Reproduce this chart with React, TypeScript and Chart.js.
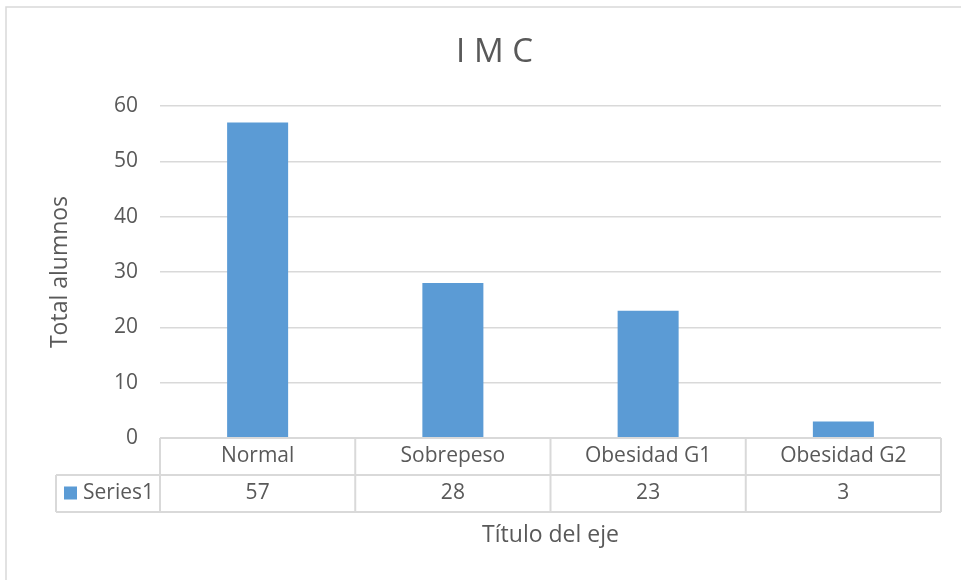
import React, { useEffect, useRef } from "react";
import { Chart, registerables } from "chart.js";

Chart.register(...registerables);

const chartTitle = "I M C";
const categories = ["Normal", "Sobrepeso", "Obesidad G1", "Obesidad G2"];
const seriesName = "Series1";
const seriesValues = [57, 28, 23, 3];
const yTitle = "Total alumnos";
const xTitle = "Título del eje";

const FONT = "'Open Sans', 'Noto Sans', sans-serif";
const TEXT = "#595959";
const GRID = "#D9D9D9";
const BAR = "#5B9BD5";

const tablePlugin = {
  id: "dataTable",
  beforeDraw(chart: any) {
    const { ctx } = chart;
    ctx.save();
    ctx.fillStyle = "#ffffff";
    ctx.fillRect(0, 0, chart.width, chart.height);
    ctx.strokeStyle = GRID;
    ctx.lineWidth = 1.5;
    ctx.strokeRect(6, 7, chart.width + 20, chart.height + 20);
    ctx.restore();
  },
  afterDraw(chart: any) {
    const { ctx, chartArea } = chart;
    const xs = chart.scales.x;
    const n = categories.length;
    const w = (chartArea.right - chartArea.left) / n;
    const top = chartArea.bottom;
    const rowH = 37;
    const legLeft = 56;
    ctx.save();
    ctx.strokeStyle = GRID;
    ctx.lineWidth = 2;
    ctx.beginPath();
    ctx.moveTo(chartArea.left, top);
    ctx.lineTo(chartArea.right, top);
    ctx.moveTo(legLeft, top + rowH);
    ctx.lineTo(chartArea.right, top + rowH);
    ctx.moveTo(legLeft, top + rowH * 2);
    ctx.lineTo(chartArea.right, top + rowH * 2);
    ctx.moveTo(legLeft, top + rowH);
    ctx.lineTo(legLeft, top + rowH * 2);
    for (let i = 0; i <= n; i++) {
      const x = chartArea.left + i * w;
      ctx.moveTo(x, top);
      ctx.lineTo(x, top + rowH * 2);
    }
    ctx.stroke();

    ctx.fillStyle = TEXT;
    ctx.font = `21px ${FONT}`;
    ctx.textAlign = "center";
    ctx.textBaseline = "middle";
    categories.forEach((c, i) => {
      const cx = xs.getPixelForValue(i);
      ctx.fillText(c, cx, top + rowH / 2);
      ctx.fillText(String(seriesValues[i]), cx, top + rowH * 1.5);
    });
    ctx.fillStyle = BAR;
    ctx.fillRect(64, top + rowH * 1.5 - 7, 13, 13);
    ctx.fillStyle = TEXT;
    ctx.textAlign = "left";
    ctx.fillText(seriesName, 83, top + rowH * 1.5);
    ctx.restore();
  },
};

export default function App() {
  const ref = useRef<HTMLCanvasElement>(null);
  useEffect(() => {
    if (!ref.current) return;
    const chart = new Chart(ref.current, {
      type: "bar",
      data: {
        labels: categories,
        datasets: [
          {
            label: seriesName,
            data: seriesValues,
            backgroundColor: BAR,
            categoryPercentage: 1,
            barPercentage: 0.3125,
          },
        ],
      },
      options: {
        responsive: false,
        animation: false,
        devicePixelRatio: 1,
        layout: { padding: { left: 48, right: 20, top: 0, bottom: 0 } },
        plugins: {
          legend: { display: false },
          tooltip: { enabled: false },
          title: {
            display: true,
            text: chartTitle,
            color: TEXT,
            font: { family: FONT, size: 33, weight: "normal" },
            padding: { top: 33, bottom: 33.4 },
          },
        },
        scales: {
          x: {
            offset: true,
            grid: { display: false },
            border: { display: false },
            ticks: { display: false },
            afterFit: (s: any) => {
              s.height = 142;
            },
            title: {
              display: true,
              text: xTitle,
              color: TEXT,
              font: { family: FONT, size: 23 },
              padding: { top: 0, bottom: 31 },
            },
          },
          y: {
            min: 0,
            max: 60,
            border: { display: false },
            grid: { color: GRID, lineWidth: 1.5, drawTicks: false },
            ticks: {
              stepSize: 10,
              padding: 22,
              color: TEXT,
              font: { family: FONT, size: 21 },
            },
            afterFit: (s: any) => {
              s.width = 112;
            },
            title: {
              display: true,
              text: yTitle,
              color: TEXT,
              font: { family: FONT, size: 23 },
              padding: { top: -1, bottom: 0 },
            },
          },
        },
      },
      plugins: [tablePlugin],
    } as any);
    return () => chart.destroy();
  }, []);
  return (
    <div style={{ position: "absolute", left: 0, top: 0, width: 961, height: 580 }}>
      <canvas ref={ref} width={961} height={580} style={{ display: "block" }} />
    </div>
  );
}
